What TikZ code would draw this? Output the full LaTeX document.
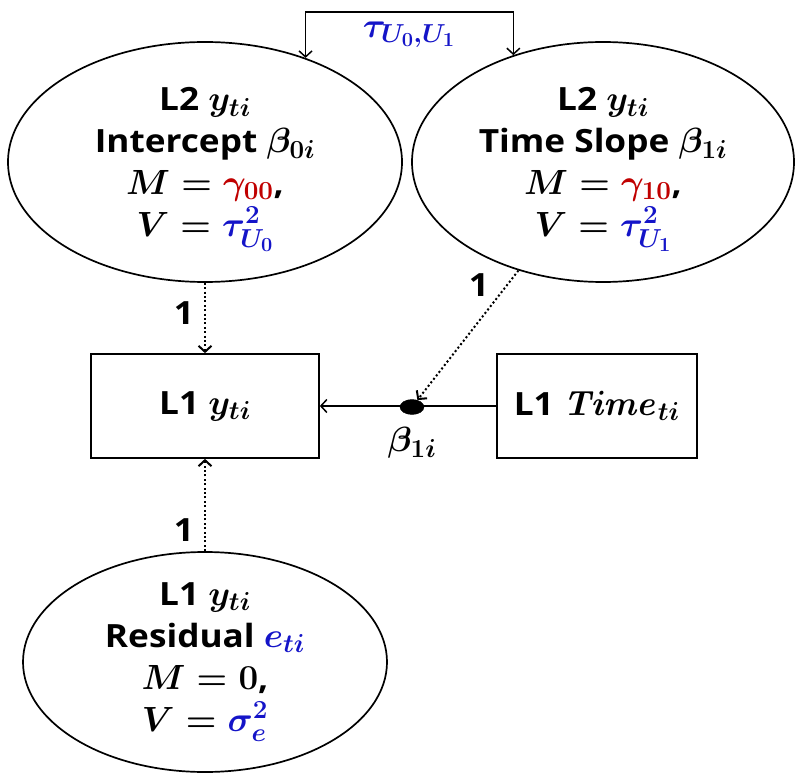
\documentclass[tikz,border=0pt]{standalone}
\usepackage{fix-cm}
\usepackage[no-math]{fontspec}
\setmainfont{Open Sans}[FakeStretch=1.1]
\usepackage{amsmath}
\DeclareMathSizes{32}{35}{26}{20}
\usepackage{tikz}
\usetikzlibrary{arrows.meta,positioning,calc,shapes.geometric}
\usepackage{xcolor}
\definecolor{red}{RGB}{192,0,0}
\definecolor{blue}{RGB}{20,20,200}

\begin{document}
\begin{tikzpicture}[x=1pt,y=-1pt,>={Straight Barb[length=6pt,width=13pt]},
  every node/.style={font=\fontsize{32}{42}\selectfont\bfseries\boldmath},
  latent/.style={draw,ellipse,line width=1.7pt,inner sep=-25pt,align=center},
  observed/.style={draw,rectangle,line width=1.7pt,minimum width=228pt,minimum height=104pt},
  regpath/.style={->,line width=1.5pt},
  loading/.style={->,line width=2pt,dash pattern=on 2pt off 2.4pt}]
\useasboundingbox (0,0) rectangle (799,775);
\node[latent,minimum width=394pt,minimum height=240pt] (l2int) at (205,162)
  {L2 $y_{ti}$\\Intercept $\beta_{0i}$\\$M=\textcolor{red}{\gamma_{00}}$,\\\smash[b]{$V=\textcolor{blue}{\tau^2_{U_0}}$}};
\node[latent,minimum width=382pt,minimum height=240pt] (l2slope) at (603,162)
  {L2 $y_{ti}$\\Time Slope $\beta_{1i}$\\$M=\textcolor{red}{\gamma_{10}}$,\\\smash[b]{$V=\textcolor{blue}{\tau^2_{U_1}}$}};
\node[observed] (l1y) at (205,406) {L1 $y_{ti}$};
\node[observed,minimum width=200pt,right=176pt of l1y] (l1time) {L1 $\mathit{Time}_{ti}$};
\node[draw,ellipse,fill,minimum width=24pt,minimum height=15pt,inner sep=0pt] (slopedot) at (412,407) {};
\node[below=9pt of slopedot] (b1label) {$\beta_{1i}$};
\node[latent,minimum width=364pt,minimum height=220pt] (l1res) at (205,662)
  {L1 $y_{ti}$\\Residual $\textcolor{blue}{e_{ti}}$\\$M=0$,\\$V=\textcolor{blue}{\sigma^2_e}$};
\coordinate (covtop) at (412,12);
\node (covlabel) at (409,35) {$\textcolor{blue}{\tau_{U_0,U_1}}$};
% loadings
\node (load1) at (184,313) {1};
\node (load2) at (479,285) {1};
\node (load3) at (184,530) {1};
\draw[regpath] (l1time) -- (l1y);
\draw[loading] (l2int) -- (l1y);
\draw[loading] (l1res) -- (l1y);
\draw[loading] (l2slope) -- (slopedot);
\draw[<->,line width=1.5pt] (l2int.46) |- (covtop) -| (l2slope.130);
\end{tikzpicture}
\end{document}
